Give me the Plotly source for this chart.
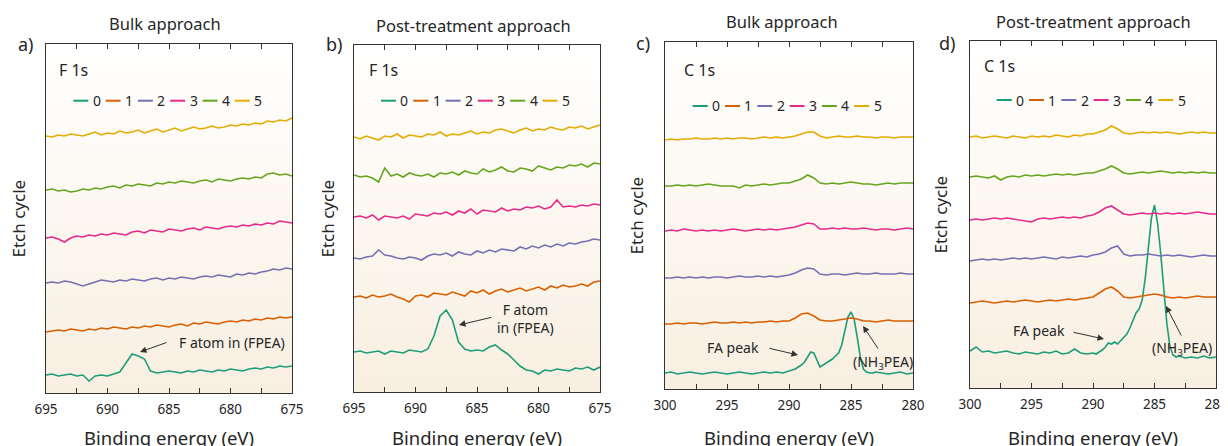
import plotly.graph_objects as go

W, H = 1228, 446
PAGE_OFF = 8  # default page margin of the html body

# ---------------- data (intensity, a.u., stacked by etch cycle) ----------------
E_F = [695.0, 694.5, 694.0, 693.5, 693.0, 692.5, 692.0, 691.5, 691.0, 690.5,
       690.0, 689.5, 689.0, 688.5, 688.0, 687.5, 687.0, 686.5, 686.0, 685.5,
       685.0, 684.5, 684.0, 683.5, 683.0, 682.5, 682.0, 681.5, 681.0, 680.5,
       680.0, 679.5, 679.0, 678.5, 678.0, 677.5, 677.0, 676.5, 676.0, 675.5, 675.0]
E_C = [300.0, 299.5, 299.0, 298.5, 298.0, 297.5, 297.0, 296.5, 296.0, 295.5,
       295.0, 294.5, 294.0, 293.5, 293.0, 292.5, 292.0, 291.5, 291.0, 290.5,
       290.0, 289.5, 289.0, 288.5, 288.0, 287.5, 287.0, 286.5, 286.0, 285.5,
       285.0, 284.5, 284.0, 283.5, 283.0, 282.5, 282.0, 281.5, 281.0, 280.5, 280.0]
E_C0 = [300.0, 299.5, 299.0, 298.5, 298.0, 297.5, 297.0, 296.5, 296.0, 295.5,
        295.0, 294.5, 294.0, 293.5, 293.0, 292.5, 292.0, 291.5, 291.0, 290.5, 290.0,
        289.75, 289.5, 289.25, 289.0, 288.75, 288.5, 288.25, 288.0, 287.75, 287.5,
        287.25, 287.0, 286.75, 286.5, 286.25, 286.0, 285.75, 285.5, 285.25, 285.0,
        284.75, 284.5, 284.25, 284.0, 283.75, 283.5, 283.25, 283.0,
        282.5, 282.0, 281.5, 281.0, 280.5, 280.0]

CYCLES = ["0", "1", "2", "3", "4", "5"]

# a) F 1s, bulk approach
a_cycle0 = [18,19,17,18,19,17,18,12,17,18,17,19,21,30,39,37,34,22,20,21,22,21,20,22,21,23,22,21,23,22,24,23,22,24,25,24,26,25,27,26,27]
a_cycle1 = [61,62,63,62,64,63,62,64,63,65,64,66,65,64,66,65,67,66,68,67,66,68,69,67,70,69,71,70,69,71,72,71,73,72,74,73,75,74,76,75,76]
a_cycle2 = [110,111,110,112,111,109,107,109,111,113,112,111,113,112,114,113,112,114,115,113,115,114,116,115,114,116,117,116,118,117,116,119,118,120,119,121,122,124,123,125,124]
a_cycle3 = [155,156,154,151,155,157,156,158,157,159,158,160,159,158,161,162,160,163,162,161,164,163,162,164,165,163,166,165,164,166,167,166,168,167,169,168,170,169,172,171,170]
a_cycle4 = [203,204,202,203,201,202,204,203,205,204,206,207,205,208,207,209,208,207,210,209,211,210,212,211,210,212,213,211,214,213,212,214,215,214,216,215,219,220,218,219,217]
a_cycle5 = [257,256,258,257,259,258,257,259,261,258,260,259,262,260,261,263,260,262,264,261,263,265,262,264,266,264,265,267,265,266,268,267,269,268,270,269,272,271,273,272,275]

# b) F 1s, post-treatment approach
b_cycle0 = [40,41,39,40,41,38,41,40,39,42,41,40,43,56,76,82,72,50,43,41,42,41,45,47,42,38,32,26,22,21,18,22,21,23,22,21,24,23,25,22,25]
b_cycle1 = [95,96,94,97,95,96,98,95,93,90,96,97,95,99,98,97,100,98,96,101,99,102,98,101,103,100,102,104,101,103,105,102,106,104,107,105,106,108,106,110,111]
b_cycle2 = [134,133,135,136,142,137,136,134,133,135,134,132,136,138,137,139,136,140,138,137,141,139,142,140,143,142,141,145,143,146,144,147,145,148,146,149,148,150,151,153,152]
b_cycle3 = [175,176,174,177,172,176,175,174,176,173,178,177,176,179,178,180,177,181,179,183,178,182,181,180,184,181,183,182,185,184,186,183,185,192,185,186,185,187,186,188,187]
b_cycle4 = [217,215,216,214,210,224,216,218,215,219,217,216,218,215,219,218,220,217,221,219,218,223,220,222,225,221,220,224,223,221,226,224,222,225,224,227,226,228,225,229,228]
b_cycle5 = [255,253,256,254,252,256,255,258,254,257,256,255,258,257,260,256,258,257,259,261,258,260,259,262,263,261,259,262,264,261,263,262,265,263,262,265,264,266,263,265,267]

# c) C 1s, bulk approach
c_cycle0 = [16,17,15,16,17,16,15,16,17,16,15,16,17,16,15,16,17,16,17,16,18,
            19,20,22,24,27,32,37,36,29,22,24,26,28,30,33,36,44,58,72,77,70,52,32,20,17,16,16,17,
            16,15,16,17,15,16]
c_cycle1 = [65,65,66,65,66,66,65,66,67,66,66,67,66,67,66,67,67,68,67,68,68,71,75,76,73,69,68,68,69,70,71,70,68,68,67,68,69,68,68,68,68]
c_cycle2 = [111,111,112,111,112,111,112,111,112,112,111,112,113,112,112,113,112,113,112,113,114,116,119,121,120,115,114,115,115,114,115,116,115,115,116,115,115,115,116,115,115]
c_cycle3 = [158,159,158,160,159,158,159,158,159,158,159,160,159,158,159,160,159,160,159,160,161,162,164,166,165,160,160,161,160,161,160,160,161,160,159,160,160,159,160,161,160]
c_cycle4 = [203,203,204,203,204,203,204,205,204,203,203,203,201,204,203,204,205,204,205,206,206,208,210,214,211,206,205,206,205,206,207,206,205,205,204,205,206,205,206,206,206]
c_cycle5 = [249,250,249,250,250,251,250,250,251,250,251,250,251,251,250,251,252,251,252,251,252,253,255,257,257,253,251,252,253,252,252,253,252,252,251,252,252,251,252,252,252]

# d) C 1s, post-treatment approach
d_cycle0 = [37,41,36,37,35,36,37,35,34,36,35,34,36,35,37,34,35,39,35,34,35,
            34,36,38,41,45,44,46,44,47,50,54,60,68,75,79,88,110,140,170,183,165,135,100,65,42,33,31,32,
            30,31,30,32,30,31]
d_cycle1 = [85,86,87,86,85,86,87,86,87,88,87,86,87,88,87,88,89,88,89,90,91,95,99,101,97,91,90,91,92,93,94,93,91,90,91,90,91,92,91,91,91]
d_cycle2 = [127,128,129,128,129,128,129,130,129,130,129,130,131,130,129,131,130,131,132,131,133,134,136,140,142,134,132,133,133,134,133,132,133,132,133,132,131,132,133,132,132]
d_cycle3 = [168,169,168,169,170,169,170,169,168,167,166,169,170,169,170,171,170,171,170,172,173,176,180,182,178,174,173,174,175,174,175,174,175,174,175,174,175,176,175,174,174]
d_cycle4 = [211,212,211,210,212,208,211,212,211,213,212,213,212,213,214,213,214,213,214,215,215,217,219,222,219,215,214,215,216,215,216,217,216,215,216,215,216,215,216,215,215]
d_cycle5 = [251,252,250,251,252,251,250,252,251,250,252,251,252,251,253,252,251,253,252,254,254,256,258,262,259,255,254,255,256,255,256,255,256,255,254,255,256,255,256,255,255]

X_TICKS_F = [695, 690, 685, 680, 675]
X_TICKS_C = [300, 295, 290, 285, 280]

# ---------------- styling ----------------
COLORS = ["#1b9e77", "#d95f02", "#7570b3", "#e7298a", "#66a61e", "#e6ab02"]
FONT = "Noto Sans"
TXT = "#262626"
AXC = "#333333"


def fx(px):
    return (px - PAGE_OFF) / W


def fy(py):
    return 1 - (py - PAGE_OFF) / H


panels = [
    dict(letter="a)", title="Bulk approach", core="F 1s",
         series=[(E_F, a_cycle0), (E_F, a_cycle1), (E_F, a_cycle2), (E_F, a_cycle3), (E_F, a_cycle4), (E_F, a_cycle5)],
         rng=[695, 675], ticks=X_TICKS_F, px=(46, 292), py=(44, 393),
         title_pos=(165, 24), letter_pos=(26, 44), ytitle_x=18, xtitle_x=169,
         core_pos=(57, 70), leg=(73.3, 100.7)),
    dict(letter="b)", title="Post-treatment approach", core="F 1s",
         series=[(E_F, b_cycle0), (E_F, b_cycle1), (E_F, b_cycle2), (E_F, b_cycle3), (E_F, b_cycle4), (E_F, b_cycle5)],
         rng=[695, 675], ticks=X_TICKS_F, px=(354, 600), py=(45, 392),
         title_pos=(473, 25), letter_pos=(334, 44), ytitle_x=327, xtitle_x=477,
         core_pos=(367, 70), leg=(381, 100.7)),
    dict(letter="c)", title="Bulk approach", core="C 1s",
         series=[(E_C0, c_cycle0), (E_C, c_cycle1), (E_C, c_cycle2), (E_C, c_cycle3), (E_C, c_cycle4), (E_C, c_cycle5)],
         rng=[300, 280], ticks=X_TICKS_C, px=(665, 913), py=(42, 389),
         title_pos=(782, 22), letter_pos=(643, 43), ytitle_x=636, xtitle_x=789,
         core_pos=(682, 70), leg=(692.7, 106)),
    dict(letter="d)", title="Post-treatment approach", core="C 1s",
         series=[(E_C0, d_cycle0), (E_C, d_cycle1), (E_C, d_cycle2), (E_C, d_cycle3), (E_C, d_cycle4), (E_C, d_cycle5)],
         rng=[300, 280], ticks=X_TICKS_C, px=(970, 1216), py=(41, 388),
         title_pos=(1093, 22), letter_pos=(947, 43), ytitle_x=940, xtitle_x=1093,
         core_pos=(982, 66), leg=(996.7, 100)),
]

fig = go.Figure()
shapes = []
annotations = []
layout = {}

TOP_RGB = (255, 255, 255)
BOT_RGB = (249, 239, 225)
NB = 40

for k, p in enumerate(panels, start=1):
    xa = "x" if k == 1 else f"x{k}"
    ya = "y" if k == 1 else f"y{k}"
    l, r = p["px"]
    t, b = p["py"]
    for (ex, vals), name, col in zip(p["series"], CYCLES, COLORS):
        assert len(ex) == len(vals), (p["letter"], name, len(ex), len(vals))
        fig.add_trace(go.Scatter(x=ex, y=vals, mode="lines", name=name, xaxis=xa, yaxis=ya,
                                 line=dict(color=col, width=1.6), showlegend=False))
    layout["xaxis" if k == 1 else f"xaxis{k}"] = dict(
        domain=[fx(l), fx(r)], anchor=ya, range=p["rng"], automargin=False,
        tickmode="array", tickvals=p["ticks"], ticks="inside", ticklen=5, tickwidth=1,
        tickcolor=AXC, showline=True, linecolor=AXC, linewidth=1.3, mirror="ticks",
        showgrid=False, zeroline=False, ticklabelstandoff=4, ticklabeloverflow="allow",
        tickfont=dict(family=FONT, size=13.5, color=TXT),
        minor=dict(dtick=2.5, tick0=p["rng"][1], ticks="inside", ticklen=5, tickwidth=1,
                   tickcolor=AXC, showgrid=False),
    )
    layout["yaxis" if k == 1 else f"yaxis{k}"] = dict(
        domain=[fy(b), fy(t)], anchor=xa, range=[0, b - t], automargin=False,
        showticklabels=False, ticks="", showline=True, linecolor=AXC, linewidth=1.3,
        mirror=True, showgrid=False, zeroline=False,
    )
    # gradient background
    for i in range(NB):
        f = i / (NB - 1)
        c = tuple(round(BOT_RGB[j] + (TOP_RGB[j] - BOT_RGB[j]) * f) for j in range(3))
        shapes.append(dict(type="rect", xref=f"{xa} domain", yref=f"{ya} domain",
                           x0=0, x1=1, y0=i / NB, y1=(i + 1) / NB + 0.002,
                           fillcolor=f"rgb{c}", line=dict(width=0), layer="below"))
    # texts
    annotations.append(dict(text=p["title"], x=fx(p["title_pos"][0]), y=fy(p["title_pos"][1]),
                            xref="paper", yref="paper", showarrow=False,
                            font=dict(family=FONT, size=16.5, color=TXT), xanchor="center", yanchor="middle"))
    annotations.append(dict(text=p["letter"], x=fx(p["letter_pos"][0]), y=fy(p["letter_pos"][1]),
                            xref="paper", yref="paper", showarrow=False,
                            font=dict(family=FONT, size=18, color=TXT), xanchor="center", yanchor="middle"))
    annotations.append(dict(text="Etch cycle", x=fx(p["ytitle_x"]), y=fy((t + b) / 2),
                            xref="paper", yref="paper", showarrow=False, textangle=-90,
                            font=dict(family=FONT, size=17, color=TXT), xanchor="center", yanchor="middle"))
    annotations.append(dict(text="Binding energy (eV)", x=fx(p["xtitle_x"]), y=fy(437),
                            xref="paper", yref="paper", showarrow=False,
                            font=dict(family=FONT, size=18.5, color=TXT), xanchor="center", yanchor="middle"))
    annotations.append(dict(text=p["core"], x=fx(p["core_pos"][0]), y=fy(p["core_pos"][1]),
                            xref="paper", yref="paper", showarrow=False,
                            font=dict(family=FONT, size=16, color=TXT), xanchor="left", yanchor="middle"))
    # legend
    lx, ly = p["leg"]
    for i, (name, col) in enumerate(zip(CYCLES, COLORS)):
        x0 = lx + i * 32.3
        shapes.append(dict(type="line", xref="paper", yref="paper",
                           x0=fx(x0), x1=fx(x0 + 15), y0=fy(ly), y1=fy(ly),
                           line=dict(color=col, width=2)))
        annotations.append(dict(text=name, x=fx(x0 + 23.3), y=fy(ly), xref="paper", yref="paper",
                                showarrow=False, font=dict(family=FONT, size=14, color=TXT),
                                xanchor="center", yanchor="middle"))

# peak annotations
labels = [
    ("F atom in (FPEA)", 232, 342),
    ("F atom<br>in (FPEA)", 525, 318),
    ("FA peak", 733, 347),
    ("(NH<sub>3</sub>PEA)", 883, 362),
    ("FA peak", 1039, 330),
    ("(NH<sub>3</sub>PEA)", 1182, 348),
]
for txt, x, y in labels:
    annotations.append(dict(text=txt, x=fx(x), y=fy(y), xref="paper", yref="paper", showarrow=False,
                            font=dict(family=FONT, size=14, color=TXT), xanchor="center", yanchor="middle"))

arrows = [  # (tail_x, tail_y, head_x, head_y) in px
    (168, 342, 140, 352),
    (493, 317, 459, 325),
    (768, 348, 798, 355),
    (879, 350, 863, 326),
    (1072, 332, 1104, 339),
    (1182, 337, 1166, 306),
]
for tx, ty, hx, hy in arrows:
    annotations.append(dict(text="", x=fx(hx), y=fy(hy), xref="paper", yref="paper",
                            showarrow=True, ax=tx - hx, ay=ty - hy, axref="pixel", ayref="pixel",
                            arrowhead=2, arrowsize=1.3, arrowwidth=1, arrowcolor="#333333", standoff=0))

fig.update_layout(
    width=W, height=H, margin=dict(l=0, r=0, t=0, b=0, autoexpand=False),
    paper_bgcolor="white", plot_bgcolor="white",
    showlegend=False, shapes=shapes, annotations=annotations,
    font=dict(family=FONT, color=TXT),
    **layout,
)

fig.write_html("out.html")
